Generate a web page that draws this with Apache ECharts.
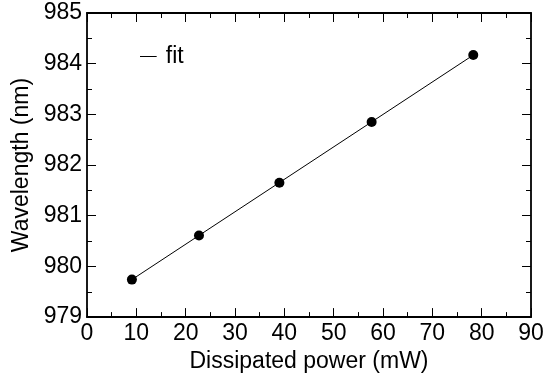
<!DOCTYPE html>
<html>
<head>
<meta charset="utf-8">
<script src="https://cdn.jsdelivr.net/npm/echarts@6/dist/echarts.min.js"></script>
<style>html,body{margin:0;padding:0;background:#fff}#c{width:558px;height:378px}</style>
</head>
<body>
<div id="c"></div>
<script>
var powerX = [9.1, 22.7, 39.0, 57.7, 78.3];
var wavelengthY = [979.74, 980.61, 981.65, 982.85, 984.17];
var fitX = [9.1, 78.3];
var fitY = [979.74, 984.17];
var xTicks = [0, 10, 20, 30, 40, 50, 60, 70, 80, 90];
var yTicks = [979, 980, 981, 982, 983, 984, 985];

var FONT = 'Liberation Sans';
var FS = 23;
var chart = echarts.init(document.getElementById('c'), null, {renderer: 'canvas'});
function axisBase(extra) {
  return Object.assign({
    axisLine: {show: true, onZero: false, lineStyle: {color: '#000', width: 1.8}},
    axisTick: {show: true, inside: true, length: 9, lineStyle: {color: '#000', width: 1}},
    minorTick: {show: true, splitNumber: 2, length: 5, lineStyle: {color: '#000', width: 1}},
    splitLine: {show: false},
    minorSplitLine: {show: false}
  }, extra);
}
chart.setOption({
  animation: false,
  backgroundColor: '#fff',
  grid: {left: 87, right: 27, top: 13, bottom: 55, containLabel: false},
  legend: {
    show: true,
    data: [{name: 'fit', icon: 'path://M0,0 L1,0 L1,0.06 L0,0.06 Z'}],
    left: 135, top: 40, padding: 5,
    itemWidth: 17, itemHeight: 1, itemGap: 0,
    textStyle: {fontFamily: FONT, fontSize: FS, color: '#000', padding: [0, 0, 0, 4]}
  },
  xAxis: [
    axisBase({type: 'value', position: 'bottom', min: xTicks[0], max: xTicks[xTicks.length - 1], interval: 10,
      name: 'Dissipated power (mW)', nameLocation: 'middle', nameGap: 26,
      nameTextStyle: {fontFamily: FONT, fontSize: FS, color: '#000'},
      axisLabel: {fontFamily: FONT, fontSize: FS, color: '#000', margin: 5}}),
    axisBase({type: 'value', position: 'top', min: xTicks[0], max: xTicks[xTicks.length - 1], interval: 10,
      axisLabel: {show: false}})
  ],
  yAxis: [
    axisBase({type: 'value', position: 'left', min: yTicks[0], max: yTicks[yTicks.length - 1], interval: 1,
      name: 'Wavelength (nm)', nameLocation: 'middle', nameGap: 47,
      nameTextStyle: {fontFamily: FONT, fontSize: FS, color: '#000'},
      axisLabel: {fontFamily: FONT, fontSize: FS, color: '#000', margin: 5}}),
    axisBase({type: 'value', position: 'right', min: yTicks[0], max: yTicks[yTicks.length - 1], interval: 1,
      axisLabel: {show: false}})
  ],
  series: [
    {
      name: 'fit', type: 'line', xAxisIndex: 0, yAxisIndex: 0,
      data: fitX.map(function (x, i) { return [x, fitY[i]]; }),
      showSymbol: false, symbol: 'none',
      lineStyle: {color: '#000', width: 1}, itemStyle: {color: '#000'}, z: 2
    },
    {
      name: 'data', type: 'scatter', xAxisIndex: 0, yAxisIndex: 0,
      data: powerX.map(function (x, i) { return [x, wavelengthY[i]]; }),
      symbol: 'circle', symbolSize: 10,
      itemStyle: {color: '#000', opacity: 1}, z: 3
    }
  ]
});
</script>
</body>
</html>
